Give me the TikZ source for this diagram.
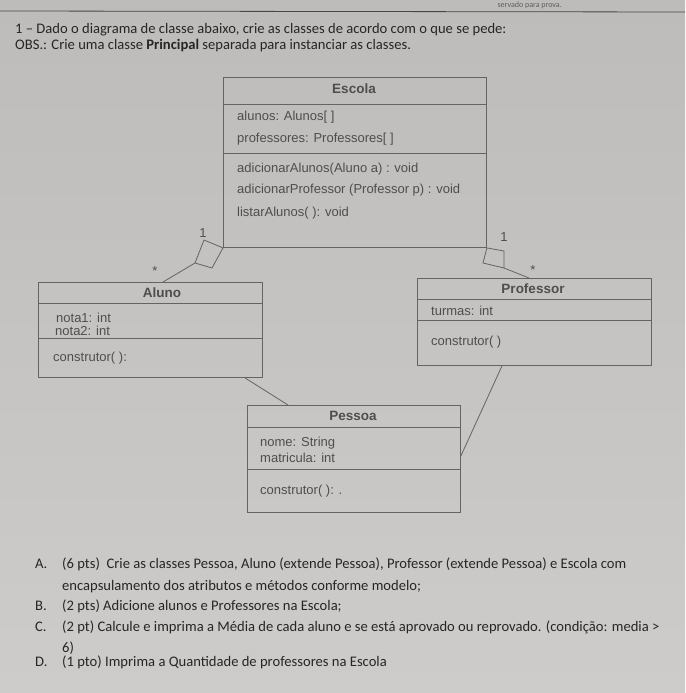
\documentclass[tikz,border=0pt]{standalone}
\usepackage{fontspec}
\setmainfont{Carlito}
\newfontfamily\diagfont{Liberation Sans}
\usetikzlibrary{calc}
\definecolor{papertop}{RGB}{190,188,186}
\definecolor{paperbot}{RGB}{206,204,202}
\definecolor{ink}{RGB}{38,38,38}
\definecolor{boxline}{RGB}{100,100,100}
\definecolor{boxtext}{RGB}{78,78,78}
\begin{document}
\begin{tikzpicture}[x=1pt,y=-1pt,
  part/.style 2 args={draw=boxline, line width=0.9pt, inner sep=0pt, anchor=north west,
    minimum width=#1, minimum height=#2},
  ttl/.style={font=\diagfont\bfseries\fontsize{13.5}{15}\selectfont, text=boxtext, inner sep=0pt},
  attr/.style={anchor=base west, font=\diagfont\fontsize{13}{15}\selectfont, text=boxtext, inner sep=0pt},
  qtext/.style={anchor=base west, font=\fontsize{14.6}{17}\selectfont, text=ink, inner sep=0pt},
  conn/.style={draw=boxline, line width=0.8pt},
  mult/.style={font=\diagfont\fontsize{13}{15}\selectfont, text=boxtext, inner sep=0pt}
]
\useasboundingbox (0,0) rectangle (685,693);
\shade[top color=papertop, bottom color=paperbot] (0,0) rectangle (685,693);

% header remnant
\node[anchor=base east, font=\fontsize{8}{9}\selectfont, text=ink!75, inner sep=0pt] (hdr) at (562,8) {servado para prova.};
\coordinate (ruleL) at (0,11);
\coordinate (ruleR) at (685,12);
\draw[ink!85, line width=0.8pt] (ruleL) -- (ruleR);

% question text
\node[qtext] (q1) at (15,34) {1 – Dado o diagrama de classe abaixo, crie as classes de acordo com o que se pede:};
\node[qtext] (q2) at (15,50) {OBS.: Crie uma classe \textbf{Principal} separada para instanciar as classes.};

% Escola
\node[part={263pt}{27pt}] (esT) at (223,77) {};
\node[part={263pt}{49pt}] (esA) at (223,104) {};
\node[part={263pt}{94pt}] (esM) at (223,153) {};
\node[ttl] (esN) at (354,89) {Escola};
\node[attr] (esA1) at (237,120) {alunos: Alunos[ ]};
\node[attr] (esA2) at (237,142) {professores: Professores[ ]};
\node[attr] (esM1) at (237,172) {adicionarAlunos(Aluno a) : void};
\node[attr] (esM2) at (237,193) {adicionarProfessor (Professor p) : void};
\node[attr] (esM3) at (237,216) {listarAlunos( ): void};

% Aluno
\node[part={224pt}{21pt}] (alT) at (38,282) {};
\node[part={224pt}{35pt}] (alA) at (38,303) {};
\node[part={224pt}{39pt}] (alM) at (38,338) {};
\node[ttl] (alN) at (162,293) {Aluno};
\node[attr] (alA1) at (56,322) {nota1: int};
\node[attr] (alA2) at (55,335) {nota2: int};
\node[attr] (alM1) at (53,361) {construtor( ):};

% Professor
\node[part={234pt}{21pt}] (prT) at (417,278) {};
\node[part={234pt}{21pt}] (prA) at (417,299) {};
\node[part={234pt}{45pt}] (prM) at (417,320) {};
\node[ttl] (prN) at (533,289) {Professor};
\node[attr] (prA1) at (431,315) {turmas: int};
\node[attr] (prM1) at (431,345) {construtor( )};

% Pessoa
\node[part={213pt}{22pt}] (peT) at (247,405) {};
\node[part={213pt}{42pt}] (peA) at (247,427) {};
\node[part={213pt}{43pt}] (peM) at (247,469) {};
\node[ttl] (peN) at (353,416) {Pessoa};
\node[attr] (peA1) at (260,446) {nome: String};
\node[attr] (peA2) at (260,462) {matricula: int};
\node[attr] (peM1) at (260,494) {construtor( ): .};

% aggregation Escola -- Aluno
\coordinate (d1a) at (esM.south west);
\coordinate (d1b) at (212,268);
\coordinate (d1c) at (195,263);
\coordinate (d1d) at (204,240);
\draw[conn] (d1a) -- (d1b) -- (d1c) -- (d1d) -- cycle;
\coordinate (alTop) at ($(alT.north west)+(125,0)$);
\draw[conn] (d1c) -- (alTop);
\node[mult] (m1) at (203,233) {1};
\node[mult] (m2) at (155,271) {*};

% aggregation Escola -- Professor
\coordinate (d2a) at (esM.south east);
\coordinate (d2b) at (504,251);
\coordinate (d2c) at (504,268);
\coordinate (d2d) at (483,263);
\draw[conn] (d2a) -- (d2b) -- (d2c) -- (d2d) -- cycle;
\coordinate (prTop) at ($(prT.north west)+(112,0)$);
\draw[conn] (d2c) -- (prTop);
\node[mult] (m3) at (504,237) {1};
\node[mult] (m4) at (533,270) {*};

% generalisations to Pessoa
\coordinate (alBot) at ($(alM.south west)+(207,0)$);
\coordinate (peTop) at ($(peT.north west)+(41,0)$);
\draw[conn] (alBot) -- (peTop);
\coordinate (prBot) at ($(prM.south west)+(85,0)$);
\coordinate (peRight) at (peA.south east);
\draw[conn] (prBot) -- ($(peRight)+(0,-14)$);

% tasks
\node[qtext] (la) at (35,568) {A.};
\node[qtext] (ta) at (62,568) {(6 pts)\ \ Crie as classes Pessoa, Aluno (extende Pessoa), Professor (extende Pessoa) e Escola com};
\node[qtext] (ta2) at (62,590) {encapsulamento dos atributos e métodos conforme modelo;};
\node[qtext] (lb) at (35,610) {B.};
\node[qtext] (tb) at (62,610) {(2 pts) Adicione alunos e Professores na Escola;};
\node[qtext] (lc) at (35,631) {C.};
\node[qtext] (tc) at (62,631) {(2 pt) Calcule e imprima a Média de cada aluno e se está aprovado ou reprovado. (condição: media >};
\node[qtext] (tc2) at (62,652) {6)};
\node[qtext] (ld) at (35,666) {D.};
\node[qtext] (td) at (62,666) {(1 pto) Imprima a Quantidade de professores na Escola};
\end{tikzpicture}
\end{document}
